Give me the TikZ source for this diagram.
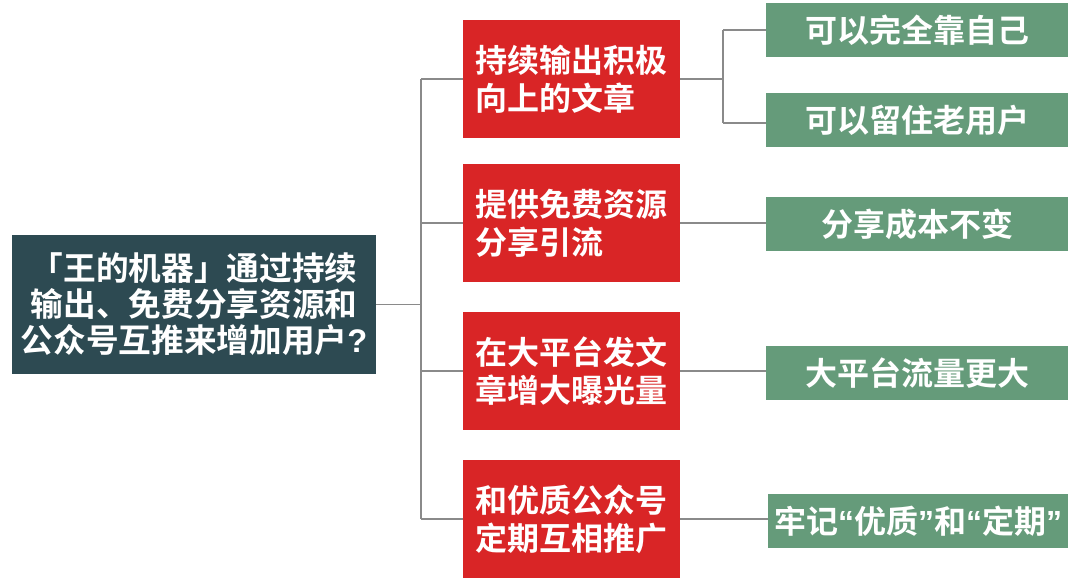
\documentclass[tikz,border=0pt]{standalone}
\usepackage{fontspec}
\setmainfont{Noto Sans CJK SC}[BoldFont=* Bold]
\newfontfamily\latinq{Liberation Sans}
\begin{document}
\begin{tikzpicture}[x=0.75pt,y=-0.75pt,
  rootbox/.style={fill=rootc,text=white,minimum width=364*0.75pt,minimum height=139*0.75pt,inner sep=0pt,align=center,font=\bfseries\fontsize{24.5pt}{27pt}\selectfont},
  redbox/.style={fill=redc,text=white,minimum width=217*0.75pt,minimum height=118*0.75pt,inner sep=0pt,align=left,font=\bfseries\fontsize{24pt}{28.5pt}\selectfont},
  greenbox/.style={fill=greenc,text=white,minimum width=302*0.75pt,minimum height=54*0.75pt,inner sep=0pt,align=center,font=\bfseries\fontsize{24pt}{28pt}\selectfont},
  link/.style={draw=linec,line width=0.8pt}]
\definecolor{rootc}{HTML}{2D4A52}
\definecolor{redc}{HTML}{D92526}
\definecolor{greenc}{HTML}{659B7A}
\definecolor{linec}{HTML}{8A8A8A}
\useasboundingbox (0,0) rectangle (1080,578);
\node[rootbox] (root) at (194,304.5) {「王的机器」通过持续\\输出、免费分享资源和\\公众号互推来增加用户{\latinq\bfseries ?}};
\node[redbox] (r1) at (571.5,79) {持续输出积极\\向上的文章};
\node[redbox] (r2) at (571.5,223) {提供免费资源\\分享引流\phantom{资源}};
\node[redbox] (r3) at (571.5,371) {在大平台发文\\章增大曝光量};
\node[redbox] (r4) at (571.5,519) {和优质公众号\\定期互相推广};
\node[greenbox] (g1) at (917,30) {可以完全靠自己};
\node[greenbox] (g2) at (917,120) {可以留住老用户};
\node[greenbox] (g3) at (917,224) {分享成本不变};
\node[greenbox] (g4) at (917,373) {大平台流量更大};
\node[greenbox,minimum width=300*0.75pt] (g5) at (918,521) {牢记{\latinq “}优质{\latinq ”}和{\latinq “}定期{\latinq ”}};
\coordinate (t0) at (421,304.5);
\coordinate (t1) at (421,79);
\coordinate (t4) at (421,519);
\coordinate (s0) at (723,79);
\coordinate (s1) at (723,30);
\coordinate (s2) at (723,123);
\draw[link] (root.east) -- (t0);
\draw[link] (t1) -- (t4);
\draw[link] (t1) -- (r1.west);
\draw[link] (r2.west -| t0) -- (r2.west);
\draw[link] (r3.west -| t0) -- (r3.west);
\draw[link] (t4) -- (r4.west);
\draw[link] (r1.east) -- (s0);
\draw[link] (s1) -- (s2);
\draw[link] (s1) -- (g1.west);
\draw[link] (s2) -- (g2.west |- s2);
\draw[link] (r2.east) -- (g3.west |- r2.east);
\draw[link] (r3.east) -- (g4.west |- r3.east);
\draw[link] (r4.east) -- (g5.west |- r4.east);
\end{tikzpicture}
\end{document}
